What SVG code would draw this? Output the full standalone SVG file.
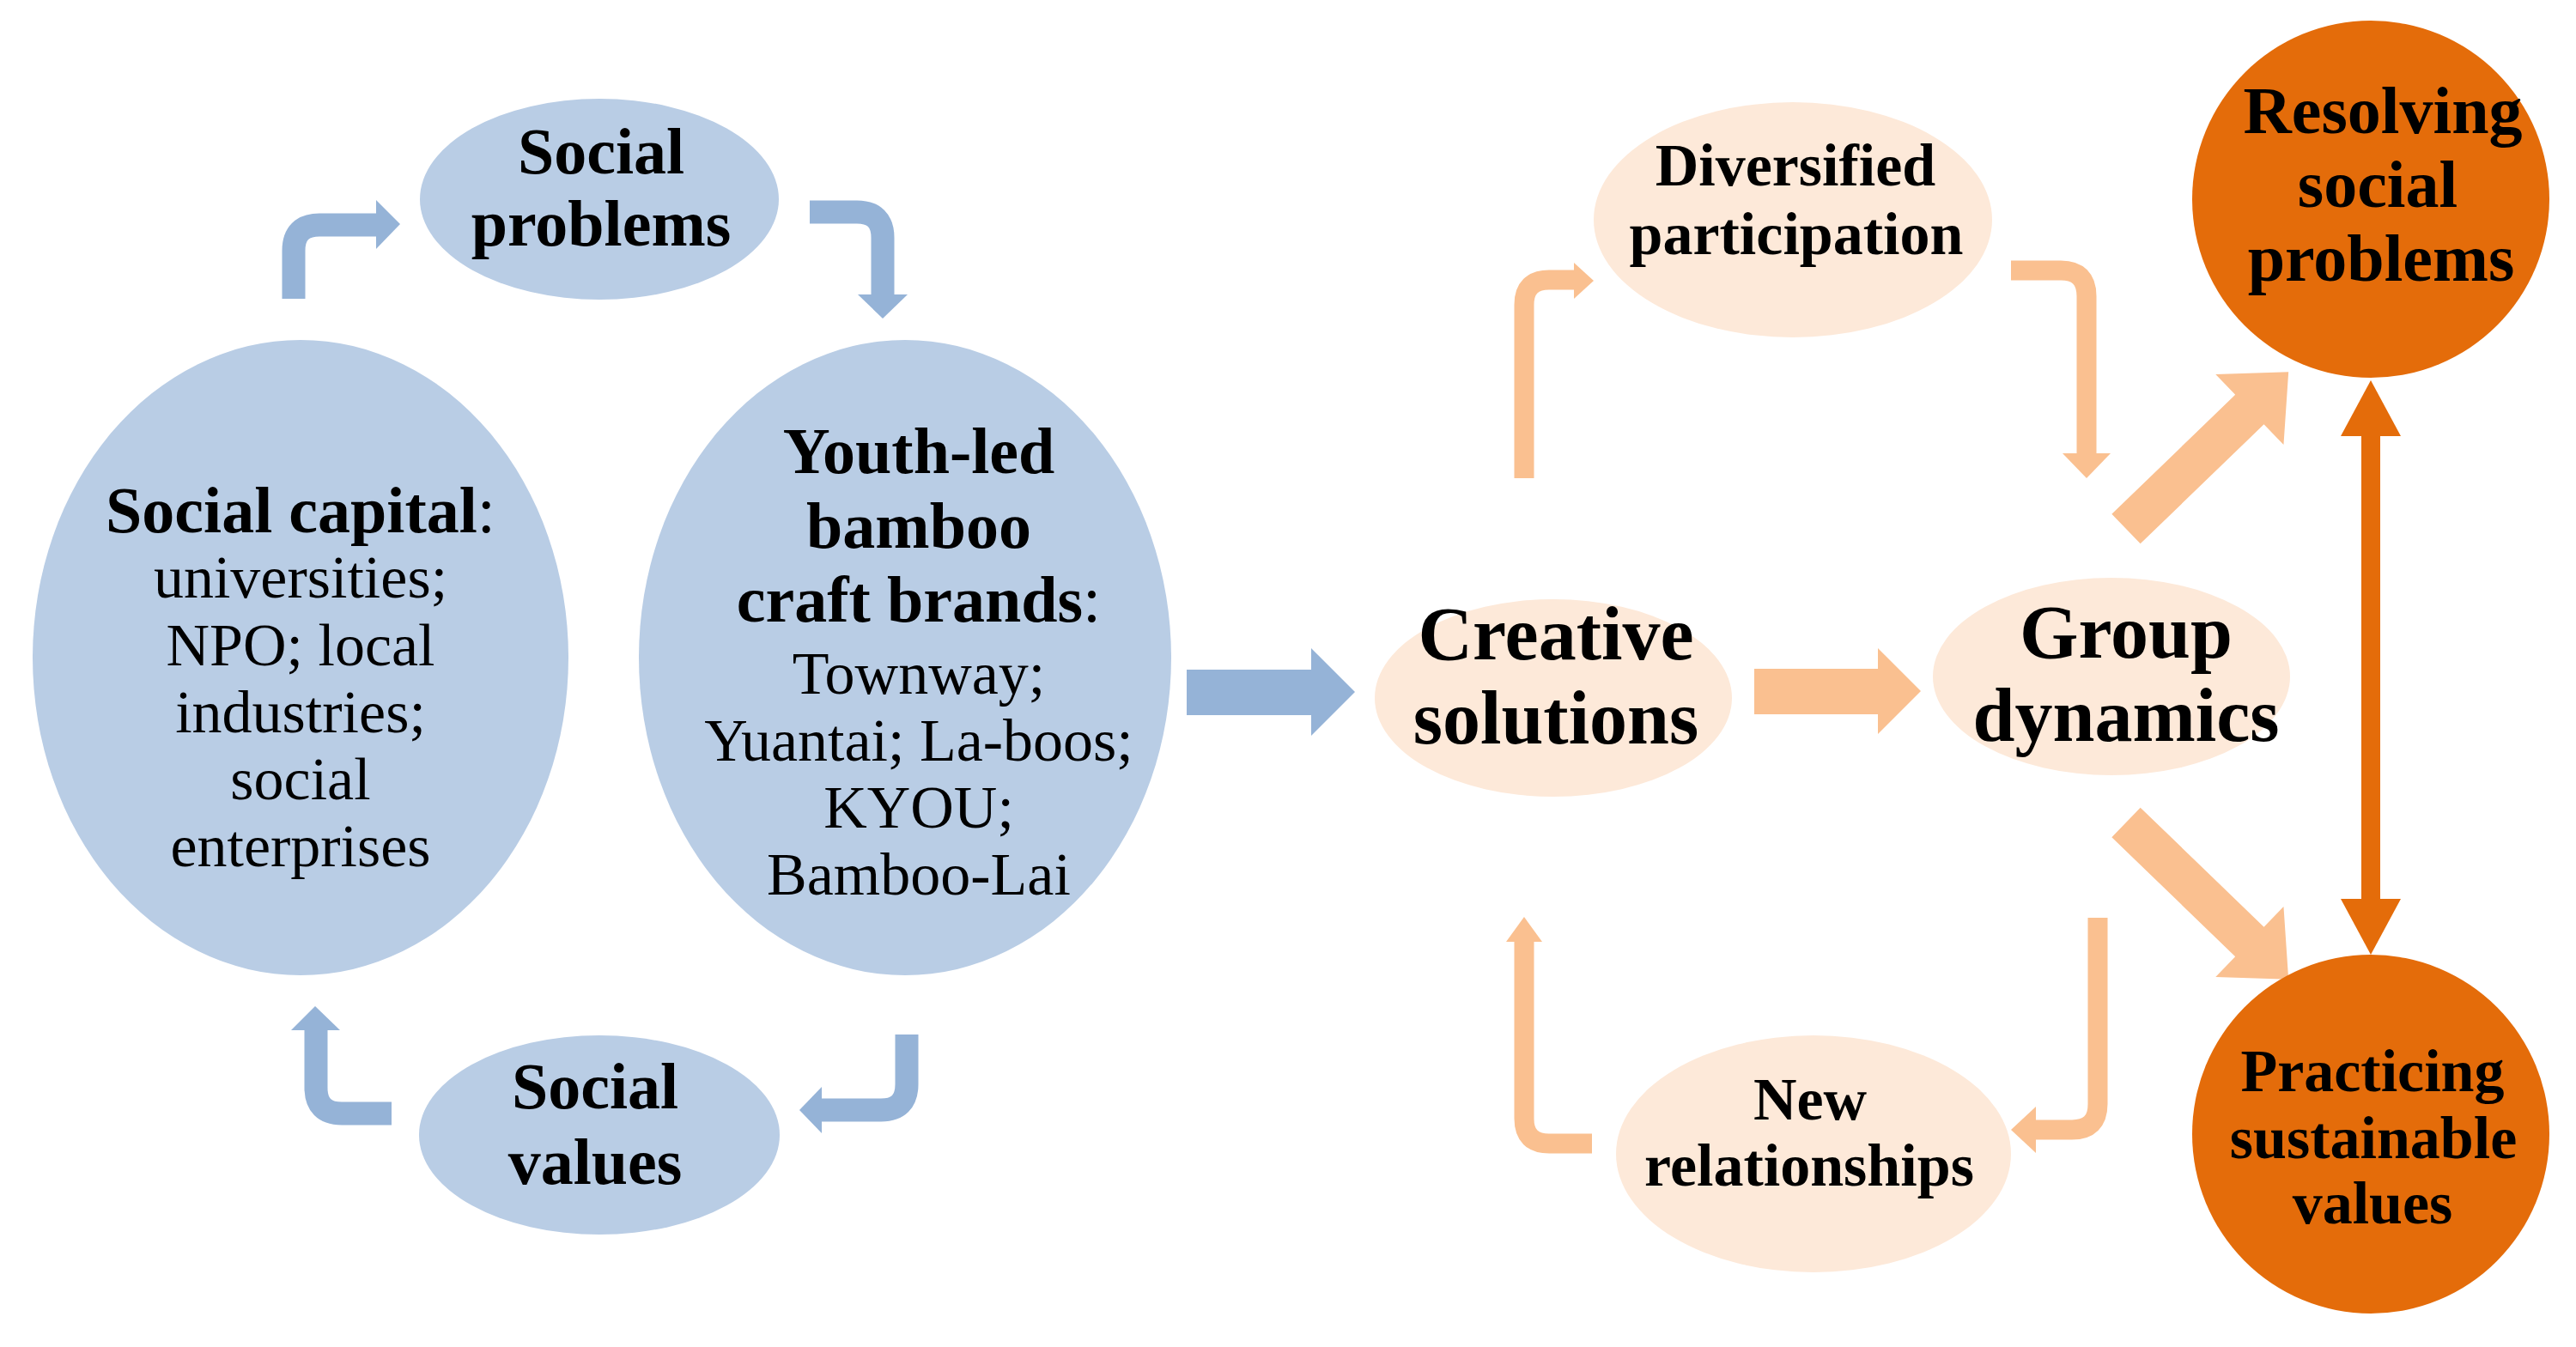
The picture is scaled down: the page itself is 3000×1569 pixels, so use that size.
<svg xmlns="http://www.w3.org/2000/svg" width="3000" height="1569" viewBox="0 0 3000 1569">
<defs>
<style>
.bl{fill:#B9CDE5}
.lo{fill:#FDE9D9}
.dk{fill:#E46C0A}
.ba{fill:none;stroke:#95B3D7;stroke-width:27}
.bh{fill:#95B3D7}
.oa{fill:none;stroke:#FAC090;stroke-width:23}
.oh{fill:#FAC090}
.da{fill:none;stroke:#E46C0A;stroke-width:22}
.dh{fill:#E46C0A}
text{font-family:"Liberation Serif","Times New Roman",serif;fill:#000;text-anchor:middle}
.b76{font-size:76px;font-weight:bold}
.b88{font-size:88px;font-weight:bold}
.b78{font-size:78px;font-weight:bold}
.b70{font-size:70px;font-weight:bold}
.r70{font-size:70px;font-weight:normal}
.n{font-weight:normal}
</style>
</defs>
<rect width="3000" height="1569" fill="#fff"/>
<g id="connectors">
<!-- left cycle -->
<path class="ba" d="M342,348 V292 Q342,262 372,262 H440"/>
<polygon class="bh" points="438,233 466,261 438,290"/>
<path class="ba" d="M943,247 H998 Q1028,247 1028,277 V345"/>
<polygon class="bh" points="999,343 1057,343 1028,371"/>
<path class="ba" d="M1056,1205 V1263 Q1056,1293 1026,1293 H955"/>
<polygon class="bh" points="957,1266 931,1293 957,1320"/>
<path class="ba" d="M456,1297 H398 Q368,1297 368,1267 V1198"/>
<polygon class="bh" points="339,1200 367,1172 396,1200"/>
<!-- big blue arrow -->
<polygon class="bh" points="1382,780 1527,780 1527,755 1578,806 1527,857 1527,833 1382,833"/>
<!-- orange cycle -->
<path class="oa" d="M1775,557 V355 Q1775,326 1804,326 H1835"/>
<polygon class="oh" points="1833,306 1856,327 1833,348"/>
<path class="oa" d="M2342,315 H2400 Q2430,315 2430,345 V530"/>
<polygon class="oh" points="2402,528 2458,528 2430,557"/>
<path class="oa" d="M2443,1069 V1286 Q2443,1316 2413,1316 H2369"/>
<polygon class="oh" points="2371,1289 2342,1316 2371,1343"/>
<path class="oa" d="M1854,1332 H1804 Q1775,1332 1775,1303 V1095"/>
<polygon class="oh" points="1754,1097 1775,1068 1796,1097"/>
<polygon class="oh" points="2043,779 2187,779 2187,755 2237,805 2187,855 2187,832 2043,832"/>
<polygon class="oh" transform="translate(2476,616) rotate(-44)" points="0,-24 200,-24 200,-57 263,0 200,57 200,24 0,24"/>
<polygon class="oh" transform="translate(2476,958) rotate(44)" points="0,-24 200,-24 200,-57 263,0 200,57 200,24 0,24"/>
<!-- double arrow -->
<line class="da" x1="2761" y1="505" x2="2761" y2="1050"/>
<polygon class="dh" points="2726,508 2761,443 2796,508"/>
<polygon class="dh" points="2726,1047 2796,1047 2761,1112"/>
</g>
<g id="social-problems">
<ellipse class="bl" cx="698" cy="232" rx="209" ry="117"/>
<text class="b76" x="700" y="202">Social</text>
<text class="b76" x="700" y="286">problems</text>
</g>
<g id="social-capital">
<ellipse class="bl" cx="350" cy="766" rx="312" ry="370"/>
<text class="b76" x="350" y="620">Social capital<tspan class="n">:</tspan></text>
<text class="r70" x="350" y="696">universities;</text>
<text class="r70" x="350" y="775">NPO; local</text>
<text class="r70" x="350" y="853">industries;</text>
<text class="r70" x="350" y="931">social</text>
<text class="r70" x="350" y="1009">enterprises</text>
</g>
<g id="youth-led">
<ellipse class="bl" cx="1054" cy="766" rx="310" ry="370"/>
<text class="b76" x="1070" y="551">Youth-led</text>
<text class="b76" x="1070" y="638">bamboo</text>
<text class="b76" x="1070" y="724">craft brands<tspan class="n">:</tspan></text>
<text class="r70" x="1070" y="808">Townway;</text>
<text class="r70" x="1070" y="886">Yuantai; La-boos;</text>
<text class="r70" x="1070" y="964">KYOU;</text>
<text class="r70" x="1070" y="1042">Bamboo-Lai</text>
</g>
<g id="social-values">
<ellipse class="bl" cx="698" cy="1322" rx="210" ry="116"/>
<text class="b76" x="693" y="1291">Social</text>
<text class="b76" x="693" y="1379">values</text>
</g>
<g id="creative-solutions">
<ellipse class="lo" cx="1809" cy="813" rx="208" ry="115"/>
<text class="b88" x="1812" y="768">Creative</text>
<text class="b88" x="1812" y="866">solutions</text>
</g>
<g id="group-dynamics">
<ellipse class="lo" cx="2459" cy="788" rx="208" ry="115"/>
<text class="b88" x="2476" y="766">Group</text>
<text class="b88" x="2476" y="863">dynamics</text>
</g>
<g id="diversified-participation">
<ellipse class="lo" cx="2088" cy="256" rx="232" ry="137"/>
<text class="b70" x="2091" y="216">Diversified</text>
<text class="b70" x="2092" y="296">participation</text>
</g>
<g id="new-relationships">
<ellipse class="lo" cx="2112" cy="1344" rx="230" ry="138"/>
<text class="b70" x="2108" y="1304">New</text>
<text class="b70" x="2107" y="1381">relationships</text>
</g>
<g id="resolving-social-problems">
<ellipse class="dk" cx="2761" cy="232" rx="208" ry="208"/>
<text class="b78" x="2775" y="155">Resolving</text>
<text class="b78" x="2769" y="241">social</text>
<text class="b78" x="2773" y="327">problems</text>
</g>
<g id="practicing-sustainable-values">
<ellipse class="dk" cx="2761" cy="1321" rx="208" ry="209"/>
<text class="b70" x="2763" y="1271">Practicing</text>
<text class="b70" x="2764" y="1349">sustainable</text>
<text class="b70" x="2763" y="1425">values</text>
</g>
</svg>
